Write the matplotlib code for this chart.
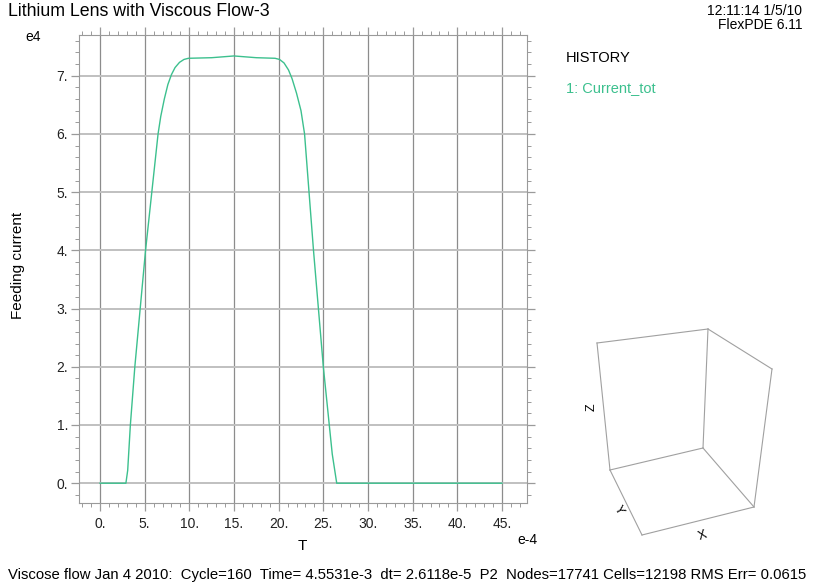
import matplotlib
matplotlib.use('Agg')
import matplotlib.pyplot as plt
from matplotlib.ticker import MultipleLocator, FuncFormatter
from matplotlib.lines import Line2D

plt.rcParams['font.family'] = ['Liberation Sans', 'DejaVu Sans']

# time in units of 1e-4, current in units of 1e4
t = [0.0, 2.9, 3.1, 3.4, 3.9, 4.5, 5.1, 5.8, 6.5, 6.8, 7.2, 7.6, 8.0, 8.4,
     8.9, 9.4, 9.9, 12.5, 15.0, 17.5, 19.6, 20.1, 20.6, 21.1, 21.5, 22.0,
     22.5, 22.9, 23.9, 25.0, 26.0, 26.5, 30.0, 35.0, 40.0, 45.0]
current = [0.0, 0.0, 0.22, 1.0, 2.0, 3.0, 4.0, 5.0, 6.0, 6.3, 6.6, 6.85, 7.02,
           7.14, 7.23, 7.28, 7.3, 7.31, 7.34, 7.31, 7.3, 7.28, 7.22, 7.1, 6.95,
           6.7, 6.4, 6.0, 4.0, 2.0, 0.5, 0.0, 0.0, 0.0, 0.0, 0.0]

x_ticks = [0, 5, 10, 15, 20, 25, 30, 35, 40, 45]
y_ticks = [0, 1, 2, 3, 4, 5, 6, 7]

green = '#3cc08e'
grid_gray = '#9a9a9a'

fig = plt.figure(figsize=(8.17, 5.86), dpi=100)
ax = fig.add_axes([79 / 817, 83 / 586, 448 / 817, 468 / 586])

ax.plot(t, current, color=green, lw=1.0)

ax.set_xlim(-2.35, 47.8)
ax.set_ylim(-0.34, 7.70)
ax.set_xticks(x_ticks)
ax.set_yticks(y_ticks)
ax.xaxis.set_minor_locator(MultipleLocator(1))
ax.yaxis.set_minor_locator(MultipleLocator(0.2))
fmt = FuncFormatter(lambda v, p: '%d.' % round(v))
ax.xaxis.set_major_formatter(fmt)
ax.yaxis.set_major_formatter(fmt)

ax.xaxis.grid(True, color='#8c8c8c', lw=0.9)
ax.yaxis.grid(True, color='#c0c0c0', lw=1.4)
ax.set_axisbelow(True)

ax.tick_params(which='both', direction='out', top=True, right=True,
               color=grid_gray, labelcolor='#222222', labelsize=10)
ax.tick_params(which='major', length=6, width=0.9)
ax.tick_params(which='minor', length=3, width=0.7)
ax.tick_params(axis='x', which='major', pad=4)
ax.tick_params(axis='y', which='major', pad=2)
for sp in ax.spines.values():
    sp.set_color(grid_gray)
    sp.set_linewidth(0.8)

def px(x, y):
    return x / 817, 1 - y / 586

fig.text(*px(8, 12), 'Lithium Lens with Viscous Flow-3', fontsize=12.8,
         ha='left', va='center')
fig.text(*px(802, 18), '12:11:14 1/5/10\nFlexPDE 6.11', fontsize=10,
         ha='right', va='center', linespacing=0.95)
fig.text(*px(33, 37), 'e4', fontsize=10, ha='center', va='center')
fig.text(*px(527, 540), 'e-4', fontsize=10, ha='center', va='center')
fig.text(*px(302, 546), 'T', fontsize=11, ha='center', va='center')
fig.text(*px(18, 265), 'Feeding current', fontsize=11, ha='center',
         va='center', rotation=90)
fig.text(*px(566, 58), 'HISTORY', fontsize=10.5, ha='left', va='center')
fig.text(*px(566, 88), '1: Current_tot', fontsize=10.5, ha='left',
         va='center', color=green)
fig.text(*px(8, 575), 'Viscose flow Jan 4 2010:  Cycle=160  Time= 4.5531e-3  '
         'dt= 2.6118e-5  P2  Nodes=17741 Cells=12198 RMS Err= 0.0615',
         fontsize=10.75, ha='left', va='center')

# orientation box
corners = {
    'tl': (597, 343), 'tb': (708, 329), 'tr': (772, 369),
    'br': (754, 507), 'ib': (703, 448), 'bl': (610, 470), 'bf': (642, 535),
}
edges = [('tl', 'tb'), ('tb', 'tr'), ('tb', 'ib'), ('tl', 'bl'), ('tr', 'br'),
         ('bl', 'ib'), ('ib', 'br'), ('bl', 'bf'), ('bf', 'br')]
for a, b in edges:
    (x0, y0), (x1, y1) = corners[a], corners[b]
    fig.add_artist(Line2D([x0 / 817, x1 / 817], [1 - y0 / 586, 1 - y1 / 586],
                          color='#a0a0a0', lw=0.8))
fig.text(*px(592, 407), 'Z', fontsize=9, ha='center', va='center', rotation=90)
fig.text(*px(618, 510), 'Y', fontsize=9, ha='center', va='center', rotation=-60)
fig.text(*px(703, 536), 'X', fontsize=9, ha='center', va='center', rotation=20)

fig.savefig('out.png', dpi=100)
